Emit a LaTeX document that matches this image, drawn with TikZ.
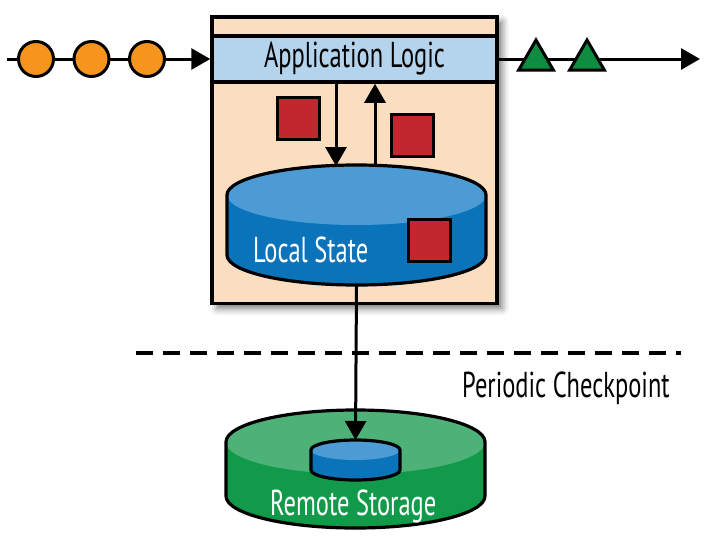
\documentclass[tikz,border=0pt]{standalone}
\usepackage{fontspec}
\newfontfamily\condfont[FakeStretch=0.68]{PT Sans}
\usetikzlibrary{arrows.meta,shapes.geometric,shadows.blur}

\definecolor{peach}{HTML}{FBDEC0}
\definecolor{logicblue}{HTML}{B3D4EC}
\definecolor{eventorange}{HTML}{F7941D}
\definecolor{resultgreen}{HTML}{0E8C40}
\definecolor{recordred}{HTML}{C1272D}
\definecolor{stateblue}{HTML}{0A73B9}
\definecolor{statetop}{HTML}{4D9BD5}
\definecolor{storegreen}{HTML}{119A4A}
\definecolor{storetop}{HTML}{4EB278}

% cylinder: centre x, top y, bottom y, x radius, y radius, body, lid
\newcommand\disk[7]{%
  \fill[#6] ({#1-#4},#2) -- ({#1-#4},#3) arc[start angle=180,end angle=0,x radius=#4,y radius=#5] -- ({#1+#4},#2) -- cycle;
  \fill[#7] (#1,#2) ellipse[x radius=#4,y radius=#5];
  \draw[line width=3.2pt] ({#1-#4},#2) -- ({#1-#4},#3) arc[start angle=180,end angle=0,x radius=#4,y radius=#5]
    -- ({#1+#4},#2) arc[start angle=0,end angle=-180,x radius=#4,y radius=#5] -- cycle;
}

\tikzset{
  flow/.style={line width=3pt, -{Triangle[length=19pt,width=21pt]}},
  event/.style={circle, draw, line width=3pt, fill=eventorange, minimum size=35pt, inner sep=0pt},
  result/.style={regular polygon, regular polygon sides=3, draw, line width=3pt, fill=resultgreen, minimum size=40pt, inner sep=0pt},
  record/.style={rectangle, draw, line width=3pt, fill=recordred, minimum size=42pt, inner sep=0pt},
  txt/.style={font=\condfont\fontsize{36}{42}\selectfont, inner sep=0pt}
}

\begin{document}
\begin{tikzpicture}[x=1pt,y=-1pt]
  \useasboundingbox (0,0) rectangle (714,536);

  % operator box
  \node[draw, line width=3.5pt, fill=peach, minimum width=285pt, minimum height=286.5pt,
    blur shadow={shadow xshift=5pt, shadow yshift=-5pt, shadow blur radius=7pt, shadow opacity=55}]
    (box) at (354.5,160) {};
  \node[draw, line width=3.5pt, fill=logicblue, minimum width=285pt, minimum height=46pt, txt]
    (logic) at (354.5,59) {Application Logic};

  % input and output streams
  \coordinate (in) at (7,59);
  \coordinate (out) at (700,59);
  \draw[flow] (in) -- (logic.west);
  \draw[flow] (logic.east) -- (out);
  \node[event] (e1) at (36,59) {};
  \node[event] (e2) at (91.5,59) {};
  \node[event] (e3) at (147,59) {};
  \node[result] (r1) at (536,60) {};
  \node[result] (r2) at (587,60) {};

  % state access
  \node[record] (get) at (298.5,118) {};
  \node[record] (put) at (412.5,135) {};
  \coordinate (down) at (336,166);
  \coordinate (up) at (375,166);
  \draw[flow] (logic.south -| down) -- (down);
  \draw[flow] (up) -- (logic.south -| up);

  % local state
  \disk{356.5}{195}{255}{129.5}{30}{stateblue}{statetop}
  \node[record] (kept) at (429.5,240.5) {};
  \node[txt, text=white, anchor=base west] (local) at (253,262) {Local State};
  \coordinate (lsbot) at (356.5,285);

  % checkpoint
  \coordinate (dash1) at (136,353);
  \coordinate (dash2) at (681,353);
  \draw[line width=3.5pt, dash pattern=on 17pt off 10pt] (dash1) -- (dash2);
  \node[txt, anchor=base west] (ckpt) at (462,397) {Periodic Checkpoint};

  % remote storage
  \disk{355.5}{442}{496}{129.5}{32}{storegreen}{storetop}
  \disk{355.5}{450}{470}{44.5}{10}{stateblue}{statetop}
  \coordinate (rmtop) at (355.5,440);
  \node[txt, text=white, anchor=base west] (remote) at (270,515) {Remote Storage};
  \draw[flow] (lsbot) -- (rmtop);
\end{tikzpicture}
\end{document}
